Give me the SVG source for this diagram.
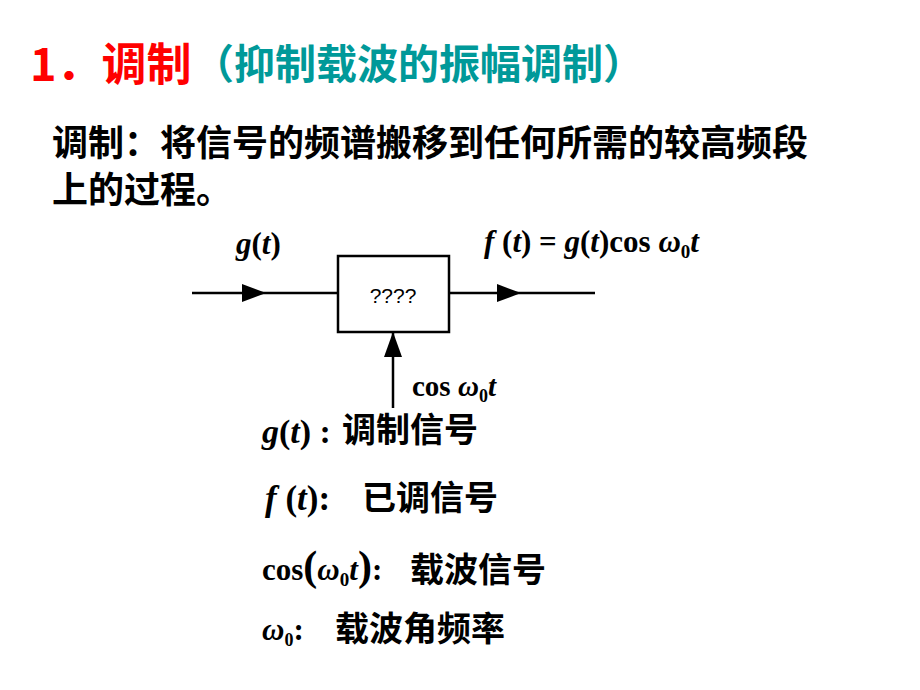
<svg xmlns="http://www.w3.org/2000/svg" width="920" height="690" viewBox="0 0 920 690">
<style>
.cjk{font-family:"Noto Sans CJK SC","Noto Sans",sans-serif;font-weight:700;fill:#000}
.math{font-family:"Liberation Serif","Times New Roman",serif;font-weight:700;font-style:italic;fill:#000}
.up{font-style:normal}
.ln{stroke:#000;stroke-width:2.5;fill:none}
</style>
<rect width="920" height="690" fill="#fff"/>
<g id="title">
<text x="30" y="81" class="cjk" style="font-size:45px;fill:#ff0000">1．调制</text>
<text x="193" y="79" class="cjk" style="font-size:41px;fill:#009999">（抑制载波的振幅调制）</text>
</g>
<g id="desc">
<text x="52" y="156" class="cjk" style="font-size:36px">调制：将信号的频谱搬移到任何所需的较高频段</text>
<text x="52" y="203" class="cjk" style="font-size:36px">上的过程。</text>
</g>
<g id="connectors">
<line x1="192" y1="293" x2="338" y2="293" class="ln"/>
<path d="M242,284 L266,293 L242,302 z" fill="#000"/>
<line x1="449" y1="293" x2="595" y2="293" class="ln"/>
<path d="M497,284 L521,293 L497,302 z" fill="#000"/>
<line x1="393" y1="408" x2="393" y2="333" class="ln"/>
<path d="M384,357 L393,332 L402,357 z" fill="#000"/>
</g>
<g id="block">
<rect x="338" y="256" width="111" height="76" fill="#fff" stroke="#000" stroke-width="2.5"/>
<text x="393" y="303" text-anchor="middle" style="font-family:'Liberation Sans',Arial,sans-serif;font-size:21px;fill:#000">????</text>
</g>
<g id="labels">
<text x="236" y="254" class="math" style="font-size:31px">g<tspan class="up">(</tspan>t<tspan class="up">)</tspan></text>
<text x="484" y="252" class="math" style="font-size:31px">f<tspan class="up"> (</tspan>t<tspan class="up">) = </tspan>g<tspan class="up">(</tspan>t<tspan class="up">)cos</tspan> ω<tspan class="up" dy="6" style="font-size:19px">0</tspan><tspan dy="-6">t</tspan></text>
<text x="412" y="396" class="math" style="font-size:29px"><tspan class="up">cos</tspan> ω<tspan class="up" dy="6" style="font-size:18px">0</tspan><tspan dy="-6">t</tspan></text>
</g>
<g id="legend">
<text x="262" y="443" class="math" style="font-size:34px">g<tspan class="up">(</tspan>t<tspan class="up">) :</tspan></text>
<text x="342" y="442" class="cjk" style="font-size:34px">调制信号</text>
<text x="265" y="510" class="math" style="font-size:35px">f<tspan class="up"> (</tspan>t<tspan class="up">):</tspan></text>
<text x="362" y="510" class="cjk" style="font-size:34px">已调信号</text>
<text x="262" y="580" class="math" style="font-size:31px"><tspan class="up">cos</tspan><tspan class="up" style="font-size:42px">(</tspan>ω<tspan class="up" dy="6" style="font-size:19px">0</tspan><tspan dy="-6">t</tspan><tspan class="up" style="font-size:42px">)</tspan><tspan class="up">:</tspan></text>
<text x="410" y="582" class="cjk" style="font-size:34px">载波信号</text>
<text x="262" y="640" class="math" style="font-size:31px">ω<tspan class="up" dy="6" style="font-size:18px">0</tspan><tspan class="up" dy="-6">:</tspan></text>
<text x="335" y="641" class="cjk" style="font-size:34px">载波角频率</text>
</g>
</svg>
